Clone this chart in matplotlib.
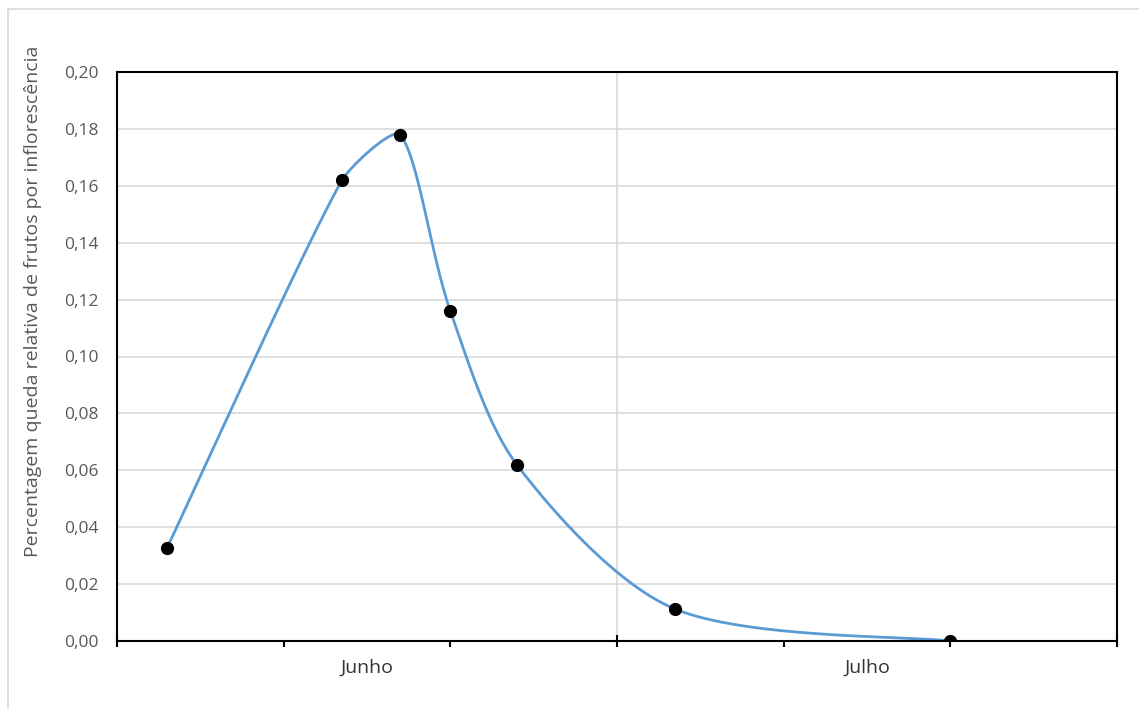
import matplotlib.pyplot as plt
from matplotlib.lines import Line2D
import numpy as np

# days counted from 1 June (0-60 covers June + July)
days = [3, 13.5, 17, 20, 24, 33.5, 50]
queda = [0.0327, 0.162, 0.1779, 0.116, 0.0619, 0.0112, 0.0]
months = ["Junho", "Julho"]
month_centers = [15, 45]
y_ticks = [0.00, 0.02, 0.04, 0.06, 0.08, 0.10, 0.12, 0.14, 0.16, 0.18, 0.20]

plt.rcParams["font.family"] = ["Open Sans", "DejaVu Sans"]


def smooth_curve(ax, xs, ys, n=80):
    """Excel-like smoothed line: Catmull-Rom tangents in display space,
    handle on the shorter side shrunk so short segments don't overshoot."""
    p = ax.transData.transform(np.column_stack([xs, ys]))
    m = len(p)
    left = np.zeros_like(p)
    right = np.zeros_like(p)
    for i in range(m):
        prev = p[i - 1] if i > 0 else p[i]
        nxt = p[i + 1] if i + 1 < m else p[i]
        tan = (nxt - prev) / 6
        l_len = np.hypot(*(p[i] - prev)) or 1e-9
        r_len = np.hypot(*(nxt - p[i])) or 1e-9
        left[i] = tan * min(1, l_len / r_len)
        right[i] = tan * min(1, r_len / l_len)
    out = []
    t = np.linspace(0, 1, n)[:, None]
    for i in range(m - 1):
        a, b = p[i], p[i + 1]
        b1 = a + right[i]
        b2 = b - left[i + 1]
        seg = ((1 - t) ** 3 * a + 3 * (1 - t) ** 2 * t * b1
               + 3 * (1 - t) * t ** 2 * b2 + t ** 3 * b)
        out.append(seg)
    c = ax.transData.inverted().transform(np.vstack(out))
    return c[:, 0], c[:, 1]


fig = plt.figure(figsize=(11.39, 7.09), dpi=100)
ax = fig.add_axes([117 / 1139, 1 - 641 / 709, 1000 / 1139, 569 / 709])

# outer chart-area border (only top and left visible in the crop)
fig.add_artist(Line2D([8 / 1139, 1.0], [1 - 9 / 709] * 2, color="#d9d9d9", lw=1.2))
fig.add_artist(Line2D([8 / 1139] * 2, [0.0, 1 - 9 / 709], color="#d9d9d9", lw=1.2))

ax.set_xlim(0, 60)
ax.set_ylim(0, 0.20)

for y in y_ticks[1:]:
    ax.axhline(y, color="#d9d9d9", lw=1.2, zorder=0)
ax.axvline(30, color="#d9d9d9", lw=1.2, zorder=0)

sx, sy = smooth_curve(ax, days, queda)
ax.plot(sx, sy, color="#5b9bd5", lw=2.0, zorder=2)
ax.plot(days, queda, "o", color="black", ms=8.5, zorder=3)

ax.set_yticks(y_ticks)
ax.set_yticklabels([f"{v:.2f}".replace(".", ",") for v in y_ticks])
ax.tick_params(axis="y", length=0, pad=13, labelsize=12.5, labelcolor="#595959")

ax.set_xticks([0, 30, 60])
ax.set_xticks([10, 20, 40, 50], minor=True)
ax.set_xticklabels([])
ax.tick_params(axis="x", which="major", direction="inout", length=9, width=1.5)
ax.tick_params(axis="x", which="minor", direction="out", length=4, width=1.5)
for xc, name in zip(month_centers, months):
    ax.text(xc, -0.0095, name, ha="center", va="center", fontsize=14,
            color="#333333", transform=ax.transData, clip_on=False)

for s in ax.spines.values():
    s.set_linewidth(1.5)
    s.set_color("black")

fig.text(33 / 1139, 1 - 301 / 709,
         "Percentagem queda relativa de frutos por inflorescência",
         rotation=90, ha="center", va="center", fontsize=14, color="#595959")

fig.savefig("out.png", dpi=100)
